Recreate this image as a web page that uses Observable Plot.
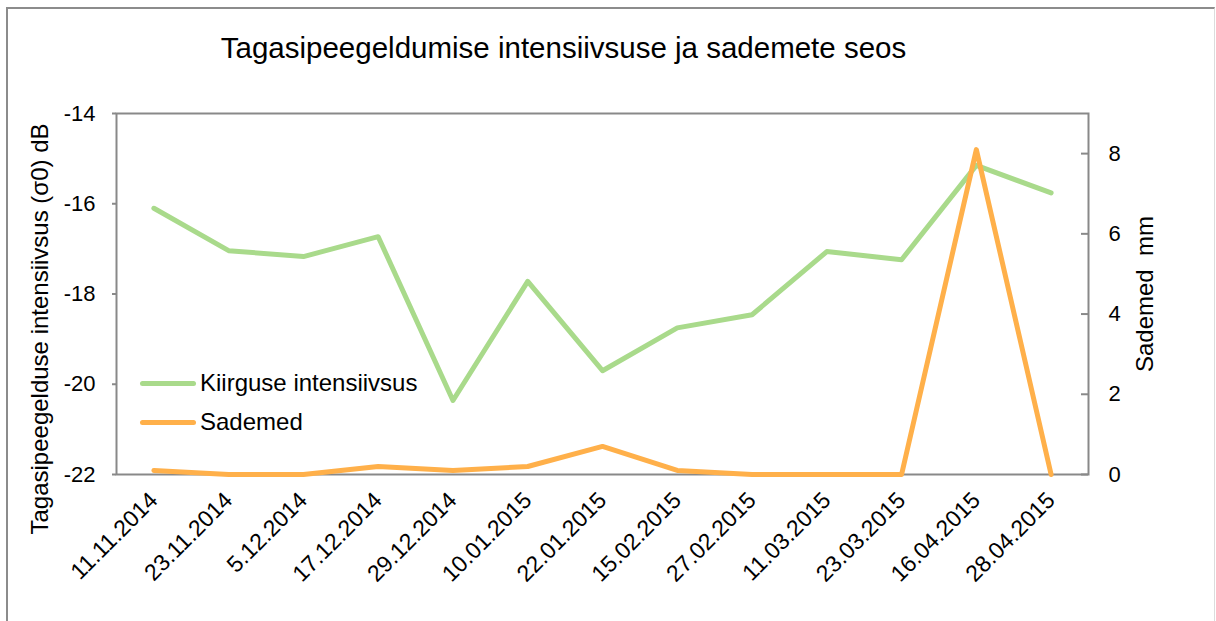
<!DOCTYPE html>
<html><head><meta charset="utf-8">
<script src="https://cdn.jsdelivr.net/npm/d3@7"></script>
<script src="https://cdn.jsdelivr.net/npm/@observablehq/plot@0.6"></script>
<style>
body{margin:0;background:#fff;font-family:"Liberation Sans",Arial,sans-serif;}
#wrap{position:relative;width:1216px;height:621px;overflow:hidden;background:#fff;}
#border{position:absolute;left:6px;top:7px;width:1206px;height:700px;border-left:2px solid #8c8c8c;border-top:2px solid #8c8c8c;border-right:1px solid #dcdcdc;}
#title{position:absolute;left:0;top:31px;width:1127px;text-align:center;font-size:29.5px;line-height:34px;color:#000;}
#chart{position:absolute;left:0;top:90px;}
.leg{position:absolute;left:140px;height:24px;display:flex;align-items:center;font-size:24px;color:#000;}
.leg span.sw{display:inline-block;width:56px;height:5px;border-radius:3px;margin-right:4px;}
</style></head>
<body>
<div id="wrap">
  <div id="border"></div>
  <div id="title">Tagasipeegeldumise intensiivsuse ja sademete seos</div>
  <div id="chart"></div>
  <div class="leg" style="top:371px"><span class="sw" style="background:#a9da8b"></span>Kiirguse intensiivsus</div>
  <div class="leg" style="top:410px"><span class="sw" style="background:#ffb04a"></span>Sademed</div>
</div>
<script>
const dates = ["11.11.2014","23.11.2014","5.12.2014","17.12.2014","29.12.2014","10.01.2015","22.01.2015","15.02.2015","27.02.2015","11.03.2015","23.03.2015","16.04.2015","28.04.2015"];
const intensity = [-16.1, -17.04, -17.17, -16.73, -20.36, -17.72, -19.70, -18.75, -18.46, -17.06, -17.24, -15.15, -15.76];
const rain = [0.1, 0, 0, 0.2, 0.1, 0.2, 0.7, 0.1, 0, 0, 0, 8.1, 0];
const leftTicks = [-22, -20, -18, -16, -14];
const rightTicks = [0, 2, 4, 6, 8];
const yMin = -22, yMax = -14, rainMax = 9;
const green = "#a9da8b", orange = "#ffb04a", axisGray = "#898989";

const toLeft = r => yMin + r * (yMax - yMin) / rainMax;
const toRain = v => Math.round((v - yMin) * rainMax / (yMax - yMin));
const rows = dates.map((d, i) => ({date: d, intensity: intensity[i], rain: rain[i]}));

const chart = Plot.plot({
  width: 1216, height: 531,
  marginTop: 23, marginBottom: 147, marginLeft: 116, marginRight: 128,
  style: {fontFamily: "Liberation Sans, Arial, sans-serif", fontSize: "22px", color: "#000", background: "transparent", overflow: "visible"},
  x: {type: "point", domain: dates, padding: 0.5, round: false},
  y: {domain: [yMin, yMax]},
  marks: [
    Plot.frame({stroke: axisGray, strokeWidth: 2}),
    Plot.axisY(leftTicks, {anchor: "left", tickSize: 4, tickPadding: 17, stroke: axisGray, strokeWidth: 2, fill: "#000", fontSize: 22, tickFormat: d => String(d), label: null}),
    Plot.axisY(rightTicks.map(toLeft), {anchor: "right", tickSize: 0, tickPadding: 20, fill: "#000", fontSize: 22, tickFormat: d => String(toRain(d)), label: null}),
    Plot.ruleY(rightTicks.map(toLeft), {insetLeft: 965, stroke: axisGray, strokeWidth: 2}),
    Plot.axisX({tickRotate: -45, tickSize: 0, tickPadding: 22, dx: 0, fill: "#000", fontSize: 23, label: null}),
    Plot.text(["Tagasipeegelduse intensiivsus (σ0) dB"], {text: d => d, frameAnchor: "left", textAnchor: "middle", dx: -76, dy: 35, rotate: -90, fontSize: 24, fill: "#000"}),
    Plot.text(["Sademed  mm"], {text: d => d, frameAnchor: "right", textAnchor: "middle", dx: 57, dy: 0, rotate: -90, fontSize: 24, fill: "#000"}),
    Plot.line(rows, {x: "date", y: "intensity", stroke: green, strokeWidth: 5, strokeLinecap: "round", strokeLinejoin: "round"}),
    Plot.line(rows, {x: "date", y: d => toLeft(d.rain), stroke: orange, strokeWidth: 5, strokeLinecap: "round", strokeLinejoin: "round"})
  ]
});
document.getElementById("chart").appendChild(chart);
</script>
</body></html>
